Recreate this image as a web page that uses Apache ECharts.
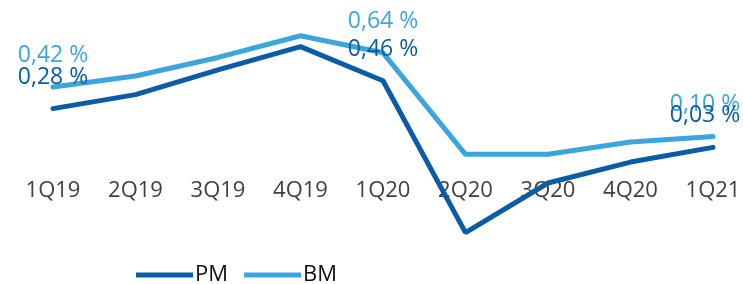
<!DOCTYPE html>
<html>
<head>
<meta charset="utf-8">
<script src="https://cdn.jsdelivr.net/npm/echarts@6/dist/echarts.min.js"></script>
<style>
  html, body { margin: 0; padding: 0; background: #fff; }
  #chart { width: 743px; height: 284px; }
</style>
</head>
<body>
<div id="chart"></div>
<script>
const quarters = ['1Q19', '2Q19', '3Q19', '4Q19', '1Q20', '2Q20', '3Q20', '4Q20', '1Q21'];
const pmValues = [0.28, 0.37, 0.53, 0.68, 0.46, -0.52, -0.20, -0.065, 0.03];
const bmValues = [0.42, 0.49, 0.61, 0.75, 0.64, -0.015, -0.015, 0.065, 0.10];
const labelledIdx = [0, 4, 8];

const PM_COLOR = '#0B5CA6';
const BM_COLOR = '#3AA6DD';
const FONT = '"Open Sans", sans-serif';

function withLabels(values, color) {
  return values.map((v, i) => {
    if (!labelledIdx.includes(i)) return v;
    return {
      value: v,
      label: {
        show: true,
        position: 'top',
        distance: 20,
        color: color,
        fontSize: 23,
        fontFamily: FONT,
        offset: i === values.length - 1 ? [-8, 0] : [0, 0],
        formatter: (p) => p.value.toFixed(2).replace('.', ',') + ' %',
      },
    };
  });
}

const chart = echarts.init(document.getElementById('chart'));
chart.setOption({
  animation: false,
  grid: { left: 53, right: 30, top: 28, bottom: 39, outerBoundsMode: 'none' },
  legend: {
    left: 131,
    top: 259,
    icon: 'rect',
    itemWidth: 57,
    itemHeight: 5,
    itemGap: 16,
    textStyle: { fontSize: 22, fontFamily: FONT, color: '#111', padding: [0, 0, 0, -3] },
    data: ['PM', 'BM'],
  },
  xAxis: {
    type: 'category',
    data: quarters,
    boundaryGap: false,
    axisLine: { show: false, onZero: false },
    axisTick: { show: false },
    axisLabel: { margin: -65, fontSize: 22, fontFamily: FONT, color: '#404040' },
  },
  yAxis: {
    type: 'value',
    min: -0.6,
    max: 0.8,
    axisLine: { show: false },
    axisTick: { show: false },
    axisLabel: { show: false },
    splitLine: { show: false },
  },
  series: [
    {
      name: 'PM',
      type: 'line',
      data: withLabels(pmValues, PM_COLOR),
      symbol: 'circle',
      symbolSize: 0.1,
      lineStyle: { color: PM_COLOR, width: 5, cap: 'round' },
      itemStyle: { color: PM_COLOR },
      z: 3,
    },
    {
      name: 'BM',
      type: 'line',
      data: withLabels(bmValues, BM_COLOR),
      symbol: 'circle',
      symbolSize: 0.1,
      lineStyle: { color: BM_COLOR, width: 5, cap: 'round' },
      itemStyle: { color: BM_COLOR },
      z: 2,
    },
  ],
});
</script>
</body>
</html>
